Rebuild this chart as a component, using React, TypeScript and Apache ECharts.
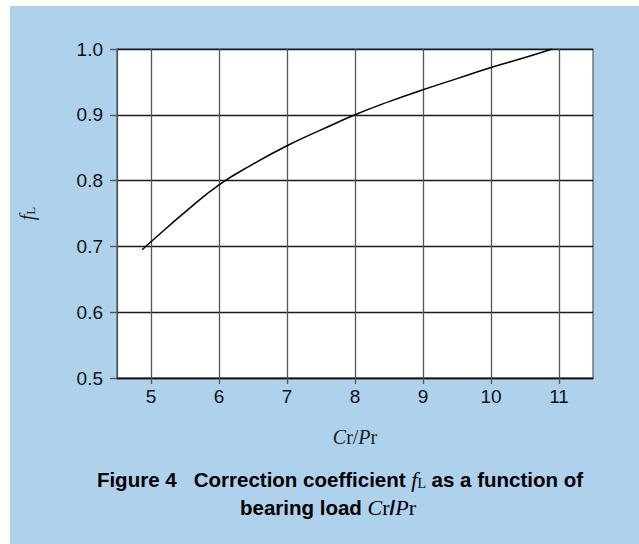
import React, { useEffect, useRef } from "react";
import * as echarts from "echarts";

const ratioCrPr = [4.87, 5, 5.5, 6, 6.5, 7, 7.5, 8, 8.5, 9, 9.5, 10, 10.5, 10.9];
const fLValues = [0.695, 0.707, 0.752, 0.7935, 0.825, 0.853, 0.877, 0.9, 0.92, 0.938, 0.955, 0.972, 0.987, 1.0];
const xTicks = [5, 6, 7, 8, 9, 10, 11];
const yTicks = [0.5, 0.6, 0.7, 0.8, 0.9, 1.0];

const W = 639;
const H = 544;
const BLUE = "#aed1ec";
const SANS = "'Liberation Sans', Arial, Helvetica, sans-serif";
const SERIF = "'Liberation Serif', 'DejaVu Serif', serif";

export default function App() {
  const ref = useRef<HTMLDivElement>(null);
  useEffect(() => {
    if (!ref.current) return;
    const chart = echarts.init(ref.current, null, { renderer: "svg" });
    const titleRich = {
      b: { fontFamily: SANS, fontWeight: "bold", fontSize: 20.5, color: "#231f20" },
      i: { fontFamily: SERIF, fontStyle: "italic", fontSize: 22, color: "#231f20" },
      s: { fontFamily: SERIF, fontSize: 14, color: "#231f20", verticalAlign: "bottom", padding: [7, 0, 0, 0] },
      r: { fontFamily: SERIF, fontSize: 22, color: "#231f20" },
    };
    chart.setOption({
      animation: false,
      backgroundColor: "#ffffff",
      graphic: [
        { type: "rect", left: 10, top: 6, shape: { width: W - 10, height: H - 6 }, style: { fill: BLUE }, z: -10, silent: true },
        {
          type: "text",
          x: 340,
          y: 479,
          style: {
            text: "{b|Figure 4   Correction coefficient }{i|f}{s|L}{b| as a function of}",
            rich: titleRich,
            align: "center",
            verticalAlign: "middle",
          },
        },
        {
          type: "text",
          x: 328,
          y: 507,
          style: {
            text: "{b|bearing load }{i|C}{r|r}{b|/}{i|P}{r|r}",
            rich: titleRich,
            align: "center",
            verticalAlign: "middle",
          },
        },
      ],
      grid: {
        left: 117,
        top: 49,
        width: 476,
        height: 329,
        show: true,
        backgroundColor: "#ffffff",
        borderColor: "#555555",
        borderWidth: 1.2,
      },
      xAxis: {
        type: "value",
        min: 4.5,
        max: 11.5,
        name: "{i|C}{r|r}{r|/}{i|P}{r|r}",
        nameLocation: "middle",
        nameGap: 49,
        nameTextStyle: {
          rich: {
            i: { fontFamily: SERIF, fontStyle: "italic", fontSize: 20, color: "#231f20" },
            r: { fontFamily: SERIF, fontSize: 20, color: "#231f20" },
          },
        },
        axisLine: { show: true, lineStyle: { color: "#111111", width: 1.3 } },
        axisTick: { show: true, inside: false, length: 6, customValues: xTicks, lineStyle: { color: "#555555", width: 1.3 } },
        axisLabel: {
          customValues: xTicks,
          margin: 9,
          fontFamily: SANS,
          fontSize: 19,
          color: "#111111",
          formatter: (v: number) => String(v),
        },
        splitLine: { show: true, lineStyle: { color: "#555555", width: 1.3 } },
      },
      yAxis: {
        type: "value",
        min: 0.5,
        max: 1.0,
        interval: 0.1,
        name: "{i|f}{s|L}",
        nameLocation: "middle",
        nameGap: 80,
        nameRotate: 90,
        nameTextStyle: {
          rich: {
            i: { fontFamily: SERIF, fontStyle: "italic", fontSize: 20, color: "#231f20" },
            s: { fontFamily: SERIF, fontSize: 13, color: "#231f20", verticalAlign: "bottom" },
          },
        },
        axisLine: { show: true, lineStyle: { color: "#555555", width: 1.3 } },
        axisTick: { show: true, inside: false, length: 7, lineStyle: { color: "#555555", width: 1.3 } },
        axisLabel: {
          margin: 14,
          fontFamily: SANS,
          fontSize: 19,
          color: "#111111",
          formatter: (v: number) => v.toFixed(1),
        },
        splitLine: { show: true, lineStyle: { color: "#1a1a1a", width: 1.3 } },
      },
      series: [
        {
          type: "line",
          data: ratioCrPr.map((x, i) => [x, fLValues[i]]),
          smooth: 0.5,
          symbol: "none",
          lineStyle: { color: "#000000", width: 1.5 },
          z: 5,
        },
      ],
    });
    return () => chart.dispose();
  }, []);
  return (
    <div
      ref={ref}
      style={{ position: "fixed", left: 0, top: 0, width: W, height: H }}
    />
  );
}
